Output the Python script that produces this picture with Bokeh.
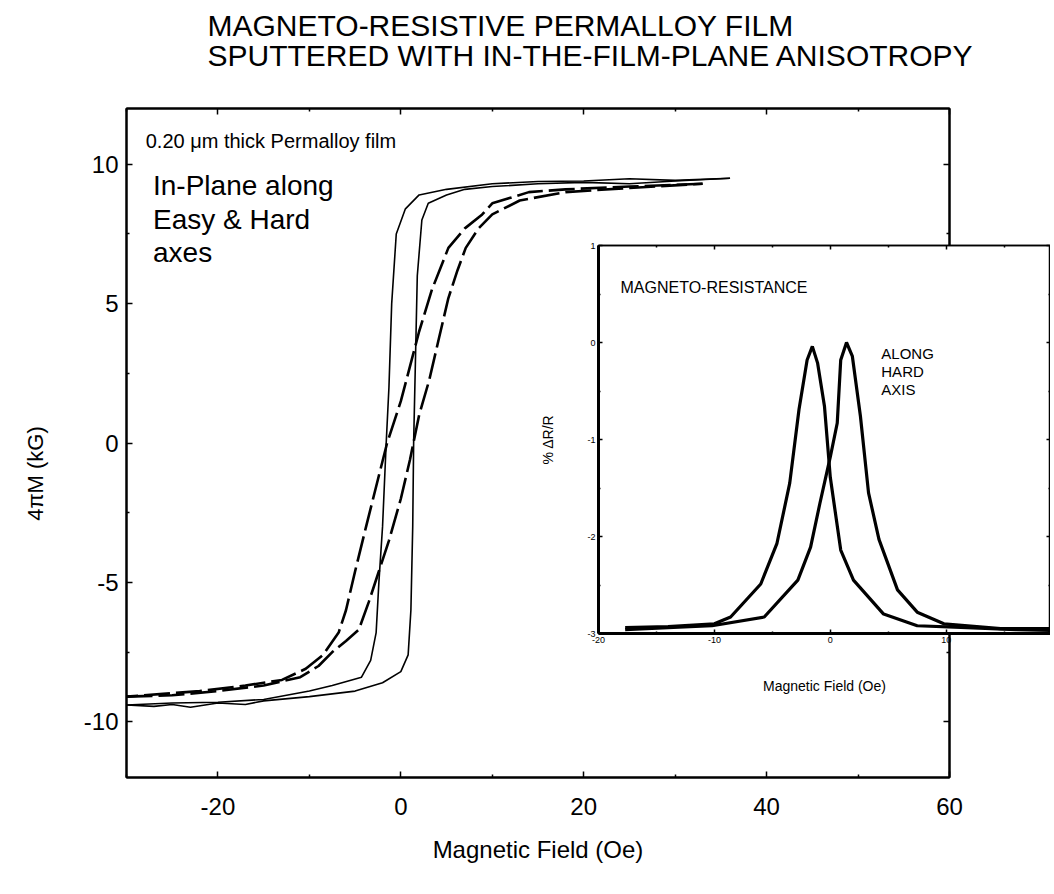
import math
from bokeh.plotting import figure
from bokeh.models import (Range1d, LinearAxis, Label, FixedTicker, GridBox, CustomJSTickFormatter,
                          Spacer, Row, Column)
from bokeh.embed import file_html
from bokeh.resources import INLINE

# ---------------- data: main hysteresis loops (field Oe, 4piM kG) ----------------
easy_desc_H = [36, 30, 25, 20, 15, 10, 5, 2, 0.5, -0.5, -1.0, -1.3, -1.6, -2.0, -2.4, -2.7, -3.3, -4.3, -7.5, -10, -15, -20, -25, -30]
easy_desc_M = [9.5, 9.42, 9.48, 9.4, 9.38, 9.3, 9.1, 8.9, 8.4, 7.5, 5.0, 2.0, 0.0, -3.0, -5.0, -6.8, -7.8, -8.4, -8.7, -8.9, -9.2, -9.3, -9.33, -9.4]

easy_asc_H = [-30, -27, -25, -23, -20, -17, -15, -10, -5, -2, 0, 0.8, 1.1, 1.3, 1.4, 1.6, 1.8, 2.3, 3.0, 5.0, 7, 10, 15, 20, 25, 30, 36]
easy_asc_M = [-9.4, -9.45, -9.38, -9.48, -9.33, -9.38, -9.25, -9.1, -8.9, -8.6, -8.2, -7.6, -6.0, -3.0, 0.0, 3.0, 6.0, 8.0, 8.6, 8.9, 9.1, 9.2, 9.3, 9.35, 9.3, 9.4, 9.5]

hard_desc_H = [33, 25, 18, 14, 10, 8.9, 7, 5.2, 3.4, 2.0, 1.2, 0, -1.5, -2.5, -3.8, -5, -6.0, -6.8, -8.5, -10.4, -13, -17, -22, -26, -30]
hard_desc_M = [9.3, 9.2, 9.1, 9.0, 8.6, 8.2, 7.7, 7.0, 5.5, 4.0, 3.0, 1.5, 0.0, -1.3, -3.0, -4.6, -6.0, -6.8, -7.6, -8.1, -8.5, -8.7, -8.9, -9.0, -9.1]

hard_asc_H = [-30, -25, -20, -15, -11, -9, -7.5, -6, -4.6, -3.5, -2.4, -1.3, 0, 1.0, 2.0, 3.1, 4.2, 5.2, 6.2, 7.1, 8.5, 10, 13, 18, 25, 33]
hard_asc_M = [-9.1, -9.05, -8.9, -8.7, -8.4, -8.0, -7.5, -7.1, -6.7, -5.7, -4.6, -3.5, -2.0, -0.6, 1.0, 2.25, 3.8, 5.2, 6.2, 7.0, 7.7, 8.2, 8.7, 9.0, 9.15, 9.3]

main_x_ticks = [-20, 0, 20, 40, 60]
main_x_minor = [-30, -10, 10, 30, 50]
main_y_ticks = [-10, -5, 0, 5, 10]
main_y_minor = [-7.5, -2.5, 2.5, 7.5]

title_lines = ["MAGNETO-RESISTIVE PERMALLOY FILM", "SPUTTERED WITH IN-THE-FILM-PLANE ANISOTROPY"]
y_title = "4πM (kG)"

# ---------------- data: inset magneto-resistance (field Oe, % dR/R) ----------------
mr_left_H = [-17.7, -14, -10.0, -8.6, -6.0, -4.6, -3.5, -2.7, -2.0, -1.55, -1.1, -0.5, 0.0, 0.9, 2.0, 4.6, 7.5, 11.8, 16, 19.7]
mr_left_R = [-2.94, -2.93, -2.90, -2.83, -2.49, -2.07, -1.45, -0.69, -0.18, -0.04, -0.21, -0.66, -1.39, -2.14, -2.45, -2.80, -2.92, -2.94, -2.96, -2.97]

mr_right_H = [-17.7, -14, -10.2, -5.7, -2.8, -1.7, -0.9, 0.0, 0.6, 0.9, 1.4, 1.9, 2.6, 3.3, 4.2, 5.8, 7.5, 9.8, 14.7, 19.7]
mr_right_R = [-2.96, -2.94, -2.92, -2.83, -2.45, -2.11, -1.66, -1.18, -0.83, -0.18, 0.0, -0.14, -0.76, -1.55, -2.03, -2.55, -2.78, -2.90, -2.95, -2.95]

inset_x_ticks = [-20, -10, 0, 10, 20]
inset_x_minor = [-15, -5, 5, 15]
inset_y_ticks = [-3, -2, -1, 0, 1]
inset_y_minor = [-2.5, -1.5, -0.5, 0.5]

FONT = "Liberation Sans"


def plain_fmt():
    return CustomJSTickFormatter(code="return String(tick)")


def blank_fmt():
    return CustomJSTickFormatter(code="return ''")


def style_axis(ax, ticks, minor, size, tin, minor_in, lw, labels=True, standoff=5):
    ax.ticker = FixedTicker(ticks=ticks, minor_ticks=minor)
    ax.axis_line_width = lw
    ax.major_tick_in = tin
    ax.major_tick_out = 0
    ax.minor_tick_in = minor_in
    ax.minor_tick_out = 0
    ax.major_tick_line_width = 1.5
    ax.minor_tick_line_width = 1.5
    ax.major_label_text_font = FONT
    ax.major_label_text_color = "black"
    if labels:
        ax.formatter = plain_fmt()
        ax.major_label_text_font_size = size
        ax.major_label_standoff = standoff
    else:
        ax.formatter = blank_fmt()
        ax.major_label_text_font_size = "0px"
        ax.major_label_standoff = 0


def style_axis_label(ax, text, size, standoff):
    ax.axis_label = text
    ax.axis_label_text_font = FONT
    ax.axis_label_text_font_size = size
    ax.axis_label_text_font_style = "normal"
    ax.axis_label_text_color = "black"
    ax.axis_label_standoff = standoff


def add_label(fig, x, y, text, size, align="left", angle=0.0):
    fig.add_layout(Label(x=x, y=y, text=text, text_font=FONT, text_font_size=size,
                         text_color="black", text_align=align, text_baseline="middle", angle=angle))


# ---------------- main figure ----------------
main = figure(width=1050, height=878, output_backend="svg", toolbar_location=None,
              x_range=Range1d(-30, 60), y_range=Range1d(-12, 12),
              min_border_left=126, min_border_right=101, min_border_top=108, min_border_bottom=101)
main.xgrid.visible = False
main.ygrid.visible = False
main.outline_line_color = "black"
main.outline_line_width = 2
main.background_fill_color = "white"
main.border_fill_color = "white"

bottom_ax = main.below[0]
left_ax = main.left[0]
top_ax = LinearAxis()
right_ax = LinearAxis()
main.add_layout(top_ax, "above")
main.add_layout(right_ax, "right")

style_axis(bottom_ax, main_x_ticks, main_x_minor, "24px", 6, 3, 2, True, 20)
style_axis(top_ax, main_x_ticks, main_x_minor, "24px", 6, 3, 2, False)
style_axis(left_ax, main_y_ticks, main_y_minor, "24px", 6, 3, 2, True, 8)
style_axis(right_ax, main_y_ticks, main_y_minor, "24px", 6, 3, 2, False)
style_axis_label(bottom_ax, "Magnetic Field (Oe)", "24px", 18)

main.line(easy_desc_H, easy_desc_M, line_color="black", line_width=1.6)
main.line(easy_asc_H, easy_asc_M, line_color="black", line_width=1.6)
main.line(hard_desc_H, hard_desc_M, line_color="black", line_width=2.6, line_dash="26 6")
main.line(hard_asc_H, hard_asc_M, line_color="black", line_width=2.6, line_dash="26 6")

add_label(main, -27.9, 10.85, "0.20 μm thick Permalloy film", "20px")
add_label(main, -27.1, 9.24, "In-Plane along", "28px")
add_label(main, -27.1, 8.02, "Easy & Hard", "28px")
add_label(main, -27.1, 6.83, "axes", "28px")

# ---------------- transparent overlay for heading and y-axis title (pixel coords, y downward) ----------------
over = figure(frame_width=1040, frame_height=870, output_backend="svg", toolbar_location=None,
              x_range=Range1d(0, 1040), y_range=Range1d(870, 0),
              x_axis_location=None, y_axis_location=None, min_border=0)
over.grid.visible = False
over.outline_line_color = None
over.background_fill_alpha = 0
over.border_fill_alpha = 0
add_label(over, 206, 24, title_lines[0], "30px")
add_label(over, 206, 54, title_lines[1], "30px")
add_label(over, 34, 472, y_title, "22px", align="center", angle=math.pi / 2)

over_block = Row(children=[Spacer(width=1, height=1),
                           Column(children=[Spacer(width=1, height=1), over])])

# ---------------- inset figure ----------------
inset = figure(frame_width=452, frame_height=388, output_backend="svg", toolbar_location=None,
               x_range=Range1d(-20, 19), y_range=Range1d(-3, 1),
               min_border_left=56, min_border_right=0, min_border_top=7, min_border_bottom=67)
inset.xgrid.visible = False
inset.ygrid.visible = False
inset.outline_line_color = "black"
inset.outline_line_width = 1.5
inset.background_fill_color = "white"
inset.border_fill_alpha = 0

ib = inset.below[0]
il = inset.left[0]
itop = LinearAxis()
iright = LinearAxis()
inset.add_layout(itop, "above")
inset.add_layout(iright, "right")
style_axis(ib, inset_x_ticks, inset_x_minor, "9px", 4, 2, 3, True, 3)
style_axis(itop, inset_x_ticks, inset_x_minor, "9px", 4, 2, 1.5, False)
style_axis(il, inset_y_ticks, inset_y_minor, "9px", 4, 2, 3, True, 3)
style_axis(iright, inset_y_ticks, inset_y_minor, "9px", 4, 2, 1.5, False)
style_axis_label(ib, "Magnetic Field (Oe)", "14px", 32)
style_axis_label(il, "% ΔR/R", "14px", 28)

inset.line(mr_left_H, mr_left_R, line_color="black", line_width=3.2)
inset.line(mr_right_H, mr_right_R, line_color="black", line_width=3.2)

add_label(inset, -18.1, 0.57, "MAGNETO-RESISTANCE", "16px")
add_label(inset, 4.4, -0.114, "ALONG", "15px")
add_label(inset, 4.4, -0.30, "HARD", "15px")
add_label(inset, 4.4, -0.486, "AXIS", "15px")

inset_block = Row(children=[Spacer(width=537, height=1),
                            Column(children=[Spacer(width=1, height=238), inset])])
layout = GridBox(children=[(main, 0, 0), (over_block, 0, 0), (inset_block, 0, 0)])

with open("out.html", "w") as f:
    f.write(file_html(layout, INLINE))
